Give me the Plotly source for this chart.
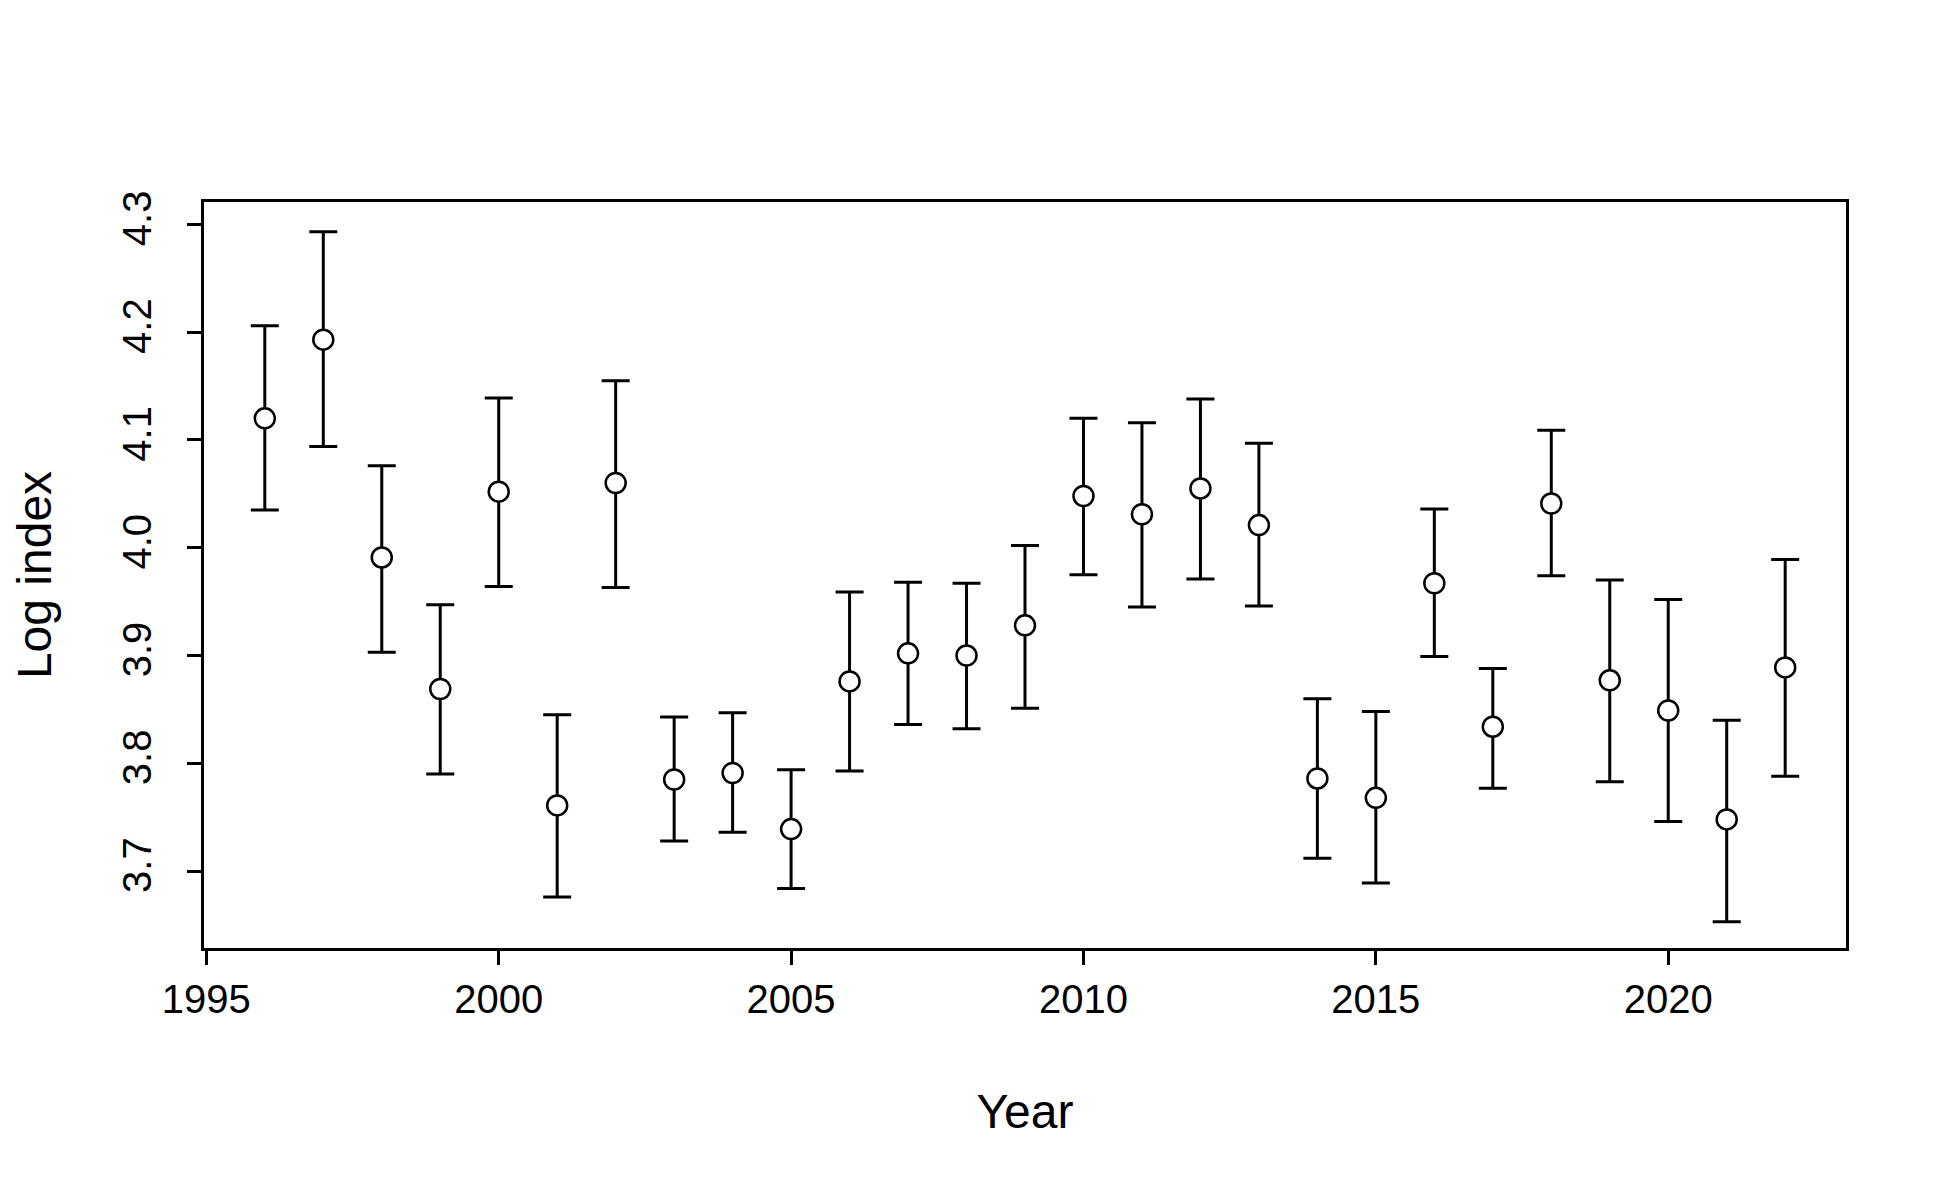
import plotly.graph_objects as go

years = list(range(1996, 2023))
log_index = [4.120, 4.193, 3.991, 3.869, 4.052, 3.761, 4.060, 3.785, 3.791, 3.739,
             3.876, 3.902, 3.900, 3.928, 4.048, 4.031, 4.055, 4.021, 3.786, 3.768,
             3.967, 3.834, 4.041, 3.877, 3.849, 3.748, 3.889]
upper = [4.206, 4.293, 4.076, 3.947, 4.139, 3.845, 4.155, 3.843, 3.847, 3.794,
         3.959, 3.968, 3.967, 4.002, 4.120, 4.116, 4.138, 4.097, 3.860, 3.848,
         4.036, 3.888, 4.109, 3.970, 3.952, 3.840, 3.989]
lower = [4.035, 4.094, 3.903, 3.790, 3.964, 3.676, 3.963, 3.728, 3.736, 3.684,
         3.793, 3.836, 3.832, 3.851, 3.975, 3.945, 3.971, 3.946, 3.712, 3.689,
         3.899, 3.777, 3.974, 3.783, 3.746, 3.653, 3.788]

err_plus = [u - v for u, v in zip(upper, log_index)]
err_minus = [v - l for v, l in zip(log_index, lower)]

font = "Liberation Sans, Arial, sans-serif"

fig = go.Figure()
fig.add_trace(go.Scatter(
    x=years, y=log_index, mode="markers",
    marker=dict(symbol="circle", size=20, color="white",
                line=dict(color="black", width=2.5)),
    error_y=dict(type="data", symmetric=False, array=err_plus, arrayminus=err_minus,
                 color="black", thickness=3, width=14),
    showlegend=False,
))

fig.update_layout(
    width=1950, height=1200,
    paper_bgcolor="white", plot_bgcolor="white",
    margin=dict(l=196, r=112, t=194, b=260),
    font=dict(family=font, size=40, color="black"),
)
fig.update_xaxes(
    range=[1994.96, 2023.04], tickvals=[1995, 2000, 2005, 2010, 2015, 2020],
    showgrid=False, zeroline=False, showline=True, linecolor="black", linewidth=3,
    mirror=True, ticks="outside", ticklen=14, tickwidth=3, tickcolor="black",
    title=dict(text="Year", standoff=75),
)
fig.update_yaxes(
    range=[3.6287, 4.3207], tickvals=[3.7, 3.8, 3.9, 4.0, 4.1, 4.2, 4.3],
    ticktext=["3.7", "3.8", "3.9", "4.0", "4.1", "4.2", "4.3"], tickangle=-90,
    ticklabelstandoff=20,
    showgrid=False, zeroline=False, showline=True, linecolor="black", linewidth=3,
    mirror=True, ticks="outside", ticklen=14, tickwidth=3, tickcolor="black",
    title=dict(text="Log index", standoff=60),
)

fig.write_html("out.html")
